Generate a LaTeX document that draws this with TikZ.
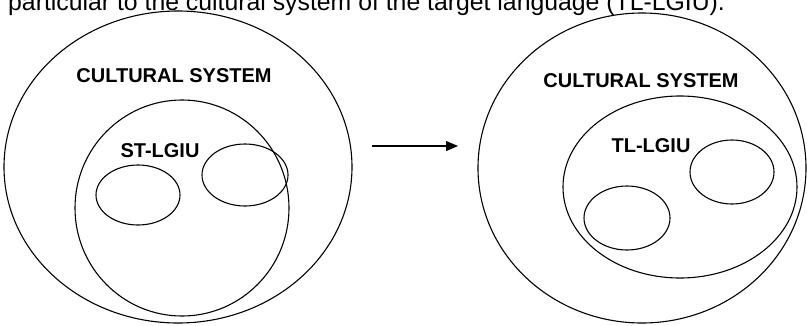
\documentclass[tikz,border=0pt]{standalone}
\usepackage{fontspec}
\setmainfont{Liberation Sans}
\usetikzlibrary{arrows.meta}
\tikzset{
  ring/.style={draw=black, line width=1.1pt},
  caption/.style={font=\fontsize{20}{22}\selectfont\bfseries, inner sep=0pt},
  flow/.style={line width=1.1pt, -{Triangle[length=12pt,width=10pt]}}
}
\begin{document}
\begin{tikzpicture}[x=1pt,y=-1pt]
\useasboundingbox (0,0) rectangle (807,325);
\clip (0,0) rectangle (807,325);
\fill[white] (0,0) rectangle (807,325);

% running text above the figure (its upper part runs off the page)
\node[anchor=base west, inner sep=0pt, font=\fontsize{24.8}{28}\selectfont] (prose) at (8,10)
  {particular to the cultural system of the target language (TL-LGIU).};

% source side
\draw[ring] (178,167) ellipse [x radius=174, y radius=156];
\node[caption] (csL) at (174,76) {CULTURAL SYSTEM};
\draw[ring] (182,208) ellipse [x radius=107, y radius=108];
\node[caption] (st) at (160,151) {ST-LGIU};
\draw[ring] (138,195) ellipse [x radius=42, y radius=30];
\draw[ring] (245,175) ellipse [x radius=43, y radius=31];

% transfer arrow
\coordinate (arrS) at (372,146);
\coordinate (arrE) at (458,146);
\draw[flow] (arrS) -- (arrE);

% target side
\draw[ring] (642,168) ellipse [x radius=164, y radius=155];
\node[caption] (csR) at (641,81) {CULTURAL SYSTEM};
\draw[ring] (680,187) ellipse [x radius=117, y radius=91];
\node[caption] (tl) at (651,146) {TL-LGIU};
\draw[ring] (732,172) ellipse [x radius=42, y radius=32];
\draw[ring] (627,218) ellipse [x radius=43, y radius=32];
\end{tikzpicture}
\end{document}
